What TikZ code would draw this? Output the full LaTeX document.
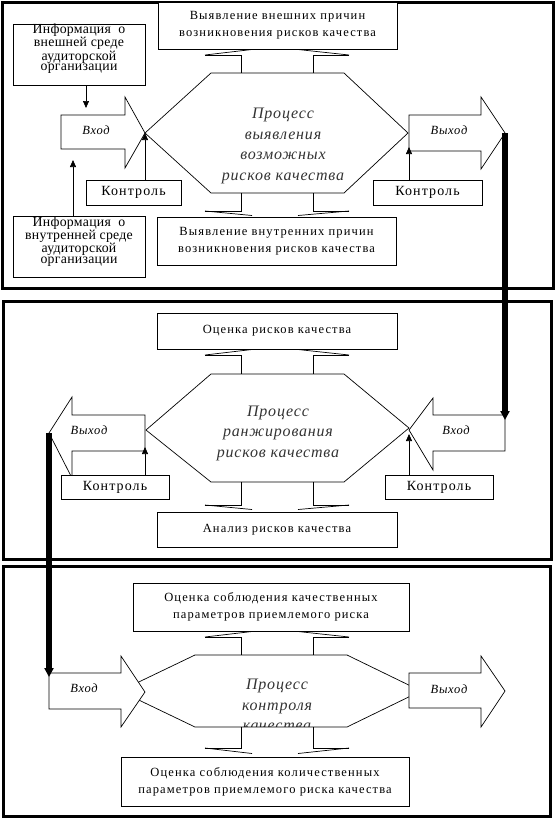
\documentclass[tikz,border=0pt]{standalone}
\usepackage{fontspec}
\setmainfont{Liberation Serif}
\newfontfamily\boxfont[LetterSpace=9]{Liberation Serif}
\newfontfamily\infofont[LetterSpace=2]{Liberation Serif}
\newfontfamily\ctrlfont[LetterSpace=8]{Liberation Serif}
\newfontfamily\arrfont[LetterSpace=6]{Liberation Serif}
\newfontfamily\hexfont[LetterSpace=5]{Liberation Serif}
\usetikzlibrary{arrows.meta}
\newcommand{\qbrace}[3]{%
  \draw[lnk] (205,#1) -- (241,#1) -- (241,#2);
  \draw[lnk] (349,#1) -- (313,#1) -- (313,#2);
  \draw[lnk] (205,#1) -- (252,#3);
  \draw[lnk] (298,#3) -- (349,#1);}
\tikzset{
  frame/.style={draw, line width=3pt},
  lnk/.style={line width=0.7pt},
  box/.style={draw, line width=0.7pt, fill=white, align=center, inner sep=0pt,
    font=\boxfont\fontsize{12.5}{17}\selectfont},
  infobox/.style={box, font=\infofont\fontsize{13.8}{10.6}\selectfont},
  ctrl/.style={box, font=\ctrlfont\fontsize{14}{15}\selectfont},
  blockarrow/.style={draw, line width=0.7pt, fill=white},
  hex/.style={draw, line width=0.7pt},
  hextext/.style={align=center, inner sep=0pt, text=black!80,
    font=\hexfont\itshape\fontsize{16}{20.5}\selectfont},
  arrtext/.style={inner sep=0pt, font=\arrfont\itshape\fontsize{12.5}{13}\selectfont},
  sarrow/.style={line width=0.7pt, -{Triangle[width=6pt,length=7pt]}},
  bigarrow/.style={line width=5.5pt, -{Triangle[width=9pt,length=9pt]}},
}
\begin{document}
\begin{tikzpicture}[x=1pt,y=-1pt]
\useasboundingbox (0,0) rectangle (555,819);
% ---------- frames ----------
\draw[frame] (2,2) rectangle (553,288.5);
\draw[frame] (3,301.5) rectangle (551.5,559.5);
\draw[frame] (3.3,566.5) rectangle (550,816.5);

% ---------- panel 1 ----------
\draw[hex] (211,73) -- (344,73) -- (408,133) -- (344,193) -- (211,193) -- (145,133) -- cycle;
\qbrace{55}{73}{49.5}
\qbrace{211}{193}{215.5}
\node[hextext] (h1) at (283,146) {Процесс\\выявления\\возможных\\рисков качества};
\draw[blockarrow] (61,115) -- (125,115) -- (125,97) -- (145,133) -- (125,168) -- (125,149) -- (61,149) -- cycle;
\draw[blockarrow] (409,115) -- (481,115) -- (481,97) -- (505,133) -- (481,169) -- (481,151) -- (409,151) -- cycle;
\node[arrtext] (in1) at (96,130) {Вход};
\node[arrtext] (out1) at (449,130) {Выход};
\node[box, minimum width=239, minimum height=47] (b1) at (277.5,25.5) {Выявление внешних причин\\возникновения рисков качества};
\node[box, minimum width=239, minimum height=48] (b2) at (276.5,241) {Выявление внутренних причин\\возникновения рисков качества};
\node[infobox, minimum width=132, minimum height=59, text depth=14pt] (inf1) at (79,54.5) {Информация\ \ о\\внешней среде\\аудиторской\\организации};
\node[infobox, minimum width=132, minimum height=60, text depth=14pt] (inf2) at (79,247) {Информация\ \ о\\внутренней среде\\аудиторской\\организации};
\node[ctrl, minimum width=95, minimum height=25] (k1) at (133.5,192.5) {Контроль};
\node[ctrl, minimum width=109, minimum height=25] (k2) at (427.5,192.5) {Контроль};
\coordinate (t1) at (86,108);
\coordinate (t2) at (73,160);
\coordinate (t3) at (145,133);
\coordinate (t4) at (409,147);
\draw[sarrow] (inf1.south -| t1) -- (t1);
\draw[sarrow] (inf2.north -| t2) -- (t2);
\draw[sarrow] (k1.north -| t3) -- (t3);
\draw[sarrow] (k2.north -| t4) -- (t4);

% ---------- panel 2 ----------
\draw[hex] (211,374) -- (344,374) -- (409,428) -- (344,482) -- (211,482) -- (146,430) -- cycle;
\qbrace{355}{374}{349.5}
\qbrace{505}{482}{509.5}
\node[hextext] (h2) at (278,433) {Процесс\\ранжирования\\рисков качества};
\draw[blockarrow] (145,415) -- (72,415) -- (72,397) -- (49,433) -- (72,478) -- (72,451) -- (145,451) -- cycle;
\draw[blockarrow] (505,415) -- (433,415) -- (433,398) -- (409,430) -- (433,470) -- (433,451) -- (505,451) -- cycle;
\node[arrtext] (out2) at (89,430) {Выход};
\node[arrtext] (in2) at (456,430) {Вход};
\node[box, minimum width=240, minimum height=36] (b3) at (277,331) {Оценка рисков качества};
\node[box, minimum width=240, minimum height=35] (b4) at (277,529.5) {Анализ рисков качества};
\node[ctrl, minimum width=108, minimum height=24] (k3) at (115,487) {Контроль};
\node[ctrl, minimum width=108, minimum height=24] (k4) at (439,487) {Контроль};
\coordinate (t5) at (145,447);
\coordinate (t6) at (409,434);
\draw[sarrow] (k3.north -| t5) -- (t5);
\draw[sarrow] (k4.north -| t6) -- (t6);

% ---------- panel 3 ----------
\begin{scope}
  \clip (150,640) rectangle (400,726.6);
  \node[hextext] (h3) at (277,705) {Процесс\\контроля\\качества};
\end{scope}
\draw[hex] (195,655) -- (347,655) -- (421,691) -- (347,727) -- (195,727) -- (120,691) -- cycle;
\qbrace{637}{655}{631.5}
\qbrace{748}{727}{753.5}
\draw[blockarrow] (49,673) -- (121,673) -- (121,656) -- (145,692) -- (121,727) -- (121,709) -- (49,709) -- cycle;
\draw[blockarrow] (409,673) -- (481,673) -- (481,656) -- (505,691) -- (481,727) -- (481,708) -- (409,708) -- cycle;
\node[arrtext] (in3) at (84,688) {Вход};
\node[arrtext] (out3) at (449,689) {Выход};
\node[box, minimum width=276, minimum height=48] (b5) at (271,607) {Оценка соблюдения качественных\\параметров приемлемого риска};
\node[box, minimum width=288, minimum height=49] (b6) at (265,781.5) {Оценка соблюдения количественных\\параметров приемлемого риска качества};

% ---------- thick connectors ----------
\coordinate (o1tip) at (505,133);
\coordinate (i2tail) at (505,420);
\coordinate (o2tip) at (49,433);
\coordinate (i3tail) at (49,677);
\draw[bigarrow] (o1tip) -- (i2tail);
\draw[bigarrow] (o2tip) -- (i3tail);
\end{tikzpicture}
\end{document}
